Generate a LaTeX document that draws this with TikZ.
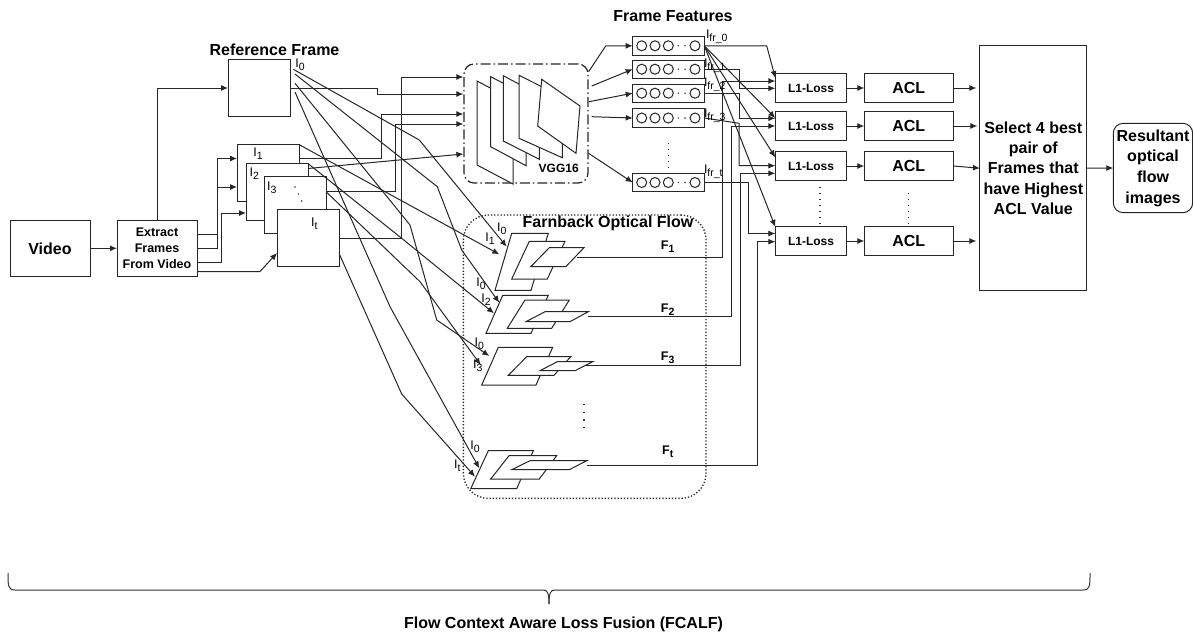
\documentclass[tikz,border=0pt]{standalone}
\usepackage{fontspec}
\setmainfont{Liberation Sans}
\usetikzlibrary{arrows.meta,calc}
\newcommand{\sz}[1]{\fontsize{#1}{#1}\selectfont}
\newcommand{\lab}[2]{#1\raisebox{-3pt}{\sz{10.5}#2}}
\begin{document}
\begin{tikzpicture}[x=1pt,y=-1pt,>={Latex[length=7pt,width=6pt]},line width=1pt,
unit/.style={draw=black!85,fill=white,inner sep=0pt,outer sep=0pt,align=center},
framebox/.style={unit,minimum width=62pt,minimum height=56.5pt},
featbox/.style={unit,minimum width=71.6pt,minimum height=18.4pt},
lossbox/.style={unit,minimum width=71.4pt,minimum height=28.4pt,font=\bfseries\sz{12}},
aclbox/.style={unit,minimum width=89pt,minimum height=28.4pt,font=\bfseries\sz{16}},
flow/.style={->,draw=black!85},
plane/.style={draw=black!85,fill=white},
cell/.style={draw=black!85,circle,minimum size=10pt,inner sep=0pt},
lab/.style={font=\sz{12.5},inner sep=0pt},
flab/.style={font=\bfseries\sz{12.5},inner sep=0pt},
title/.style={font=\bfseries\sz{16},inner sep=0pt},
spots/.style={draw=black!80,line width=1.2pt,dash pattern=on 1.2pt off 4.8pt}]
\useasboundingbox (0,0) rectangle (1193,637);
\node[draw=black!85,line width=1.3pt,dash pattern=on 1.3pt off 1.9pt,rounded corners=25pt,minimum width=242.7pt,minimum height=283.3pt,inner sep=0pt] (flowarea) at (584.7,356.7) {};
\node[draw=black!85,line width=1.2pt,dash pattern=on 10pt off 3pt on 1.5pt off 3pt,rounded corners=10pt,minimum width=124pt,minimum height=119pt,inner sep=0pt] (vgg) at (526,123.5) {};
\draw[plane] (477,81)--(513,100)--(513,184)--(477,165)--cycle;
\draw[plane] (490.7,76.7)--(526,95)--(526,165.7)--(490.7,146.7)--cycle;
\draw[plane] (503.3,75.7)--(539.3,95)--(539.3,159.3)--(503.3,141)--cycle;
\draw[plane] (519,75.3)--(562.3,97)--(562.3,157.7)--(519,138.3)--cycle;
\draw[plane] (541.7,79.3)--(580,106)--(576,153.3)--(537.7,126)--cycle;
\node[inner sep=0pt,font=\bfseries\sz{12}] at (558.7,168) {VGG16};
\node[unit,minimum width=80pt,minimum height=56.5pt,font=\bfseries\sz{16}] (video) at (50,248.3) {Video};
\node[unit,minimum width=80pt,minimum height=56.5pt,font=\bfseries\sz{12.5}] (extract) at (157,248.3) {Extract\\[3.5pt]Frames\\[3.5pt]From Video};
\node[framebox] (refframe) at (259,88) {};
\node[framebox] (frameone) at (268,172.8) {};
\node[framebox] (frametwo) at (277,191.8) {};
\node[framebox] (framethree) at (295,205) {};
\node[framebox] (framelast) at (308,238) {};
\foreach \i/\p in {0/45.8,1/69.2,2/93.2,3/118,t/182.5}{
\node[featbox] (feat\i) at (668.5,\p) {};
\foreach \c in {641.7,655,668.3,695}{\node[cell] at (\c,\p) {};}
\fill[black!80] (678.3,\p) circle (.8pt) (685,\p) circle (.8pt);
}
\foreach \i/\p in {1/88,2/126,3/166,4/241}{
\node[lossbox] (loss\i) at (811,\p) {L1-Loss};
\node[aclbox] (acl\i) at (908.8,\p) {ACL};
\draw[flow] (loss\i.east)--(acl\i.west);
}
\node[unit,minimum width=106.7pt,minimum height=245pt,font=\bfseries\sz{16}] (select) at (1033.3,168.2) {Select 4 best\\[4.3pt]pair of\\[4.3pt]Frames that\\[4.3pt]have Highest\\[4.3pt]ACL Value};
\node[unit,rounded corners=10pt,minimum width=79.4pt,minimum height=89.4pt,font=\bfseries\sz{16}] (result) at (1153,168) {Resultant\\[4.7pt]optical\\[4.7pt]flow\\[4.7pt]images};
\draw[plane] (511.7,233.3)--(548.3,233.3)--(531,290.3)--(495,290.3)--cycle;
\draw[plane] (529.3,241.3)--(565,241.3)--(547.3,279)--(511.7,279)--cycle;
\draw[plane] (549.3,247.7)--(584,247.7)--(565.7,266.7)--(530.7,266.7)--cycle;
\draw[plane] (502.7,295.3)--(548.3,295.3)--(531,333.3)--(486,333.3)--cycle;
\draw[plane] (525,300)--(569.3,300)--(551.7,328.3)--(507.3,328.3)--cycle;
\draw[plane] (545,311.7)--(588.3,311.7)--(570,321.7)--(526,321.7)--cycle;
\draw[plane] (498.3,347.3)--(552.7,347.3)--(536,385)--(481.7,385)--cycle;
\draw[plane] (526.7,356.7)--(570.7,356.7)--(554,375.3)--(508.3,375.3)--cycle;
\draw[plane] (557.3,361.7)--(592.7,361.7)--(575,370.7)--(540,370.7)--cycle;
\draw[plane] (488.3,450.7)--(533.3,450.7)--(516.7,488.7)--(470.7,488.7)--cycle;
\draw[plane] (509,455.7)--(556.7,455.7)--(539.3,479)--(490.7,479)--cycle;
\draw[plane] (530,460.7)--(586.7,460.7)--(569.3,469.7)--(511.7,469.7)--cycle;
\coordinate (flowa) at (577,257.3);
\coordinate (flowb) at (588.3,316.7);
\coordinate (flowc) at (586,365.7);
\coordinate (flowt) at (586.7,465);
\draw[flow] (video.east)--(extract.west);
\draw[flow] (extract.north)--(157,88)--(refframe.west);
\draw[flow] (extract.east|-0,234)--(217,234)--(217,158.5)--(frameone.west|-0,158.5);
\draw[flow] (extract.east|-0,248.3)--(217,248.3)--(217,187)--(frameone.west|-0,187);
\draw[flow] (extract.east|-0,262.7)--(221,262.7)--(221,213)--(frametwo.west|-0,213);
\draw[flow] (extract.east|-0,271.5)--(260,271.5)--(framelast.west|-0,253);
\draw[flow] (refframe.east)--(377,88)--(377,94)--(vgg.west|-0,94);
\draw[flow] (framelast.east)--(401,238)--(401,77)--(vgg.west|-0,77);
\draw[flow] (frameone.east|-0,158)--(381,158)--(381,114)--(vgg.west|-0,114);
\draw[flow] (frametwo.east|-0,168.5)--(vgg.west|-0,154);
\draw[flow] (framethree.east|-0,191.5)--(395,191.5)--(395,124)--(vgg.west|-0,124);
\coordinate (refout) at (293.3,69.3);
\coordinate (refoutb) at (295,74);
\coordinate (refoutc) at (295,83.3);
\coordinate (refoutd) at (295,92);
\draw[flow] (refout)--(419.3,140)--(506.7,246.7);
\draw[flow] (refoutb)--(437.3,186.7)--(461.7,250)--(499.3,302.7);
\draw[flow] (refoutc)--(410,225)--(436.7,320)--(489.3,356);
\draw[flow] (refoutd)--(390,306.7)--(479.3,468.3);
\draw[flow] (frameone.north east)--(499.3,254.3);
\draw[flow] (frametwo.north east)--(401.7,238.3)--(494,313.3);
\draw[flow] (framethree.east|-0,191.7)--(420,281.7)--(480.7,365);
\draw[flow] (framelast.east|-0,253.3)--(401.7,394)--(475,476.7);
\draw[flow] (vgg.east|-0,71.7)--(605.7,46)--(feat0.west);
\draw[flow] (591.7,86)--(feat1.west);
\draw[flow] (589,101.7)--(feat2.west);
\draw[flow] (591.7,116.7)--(feat3.west);
\draw[flow] (vgg.east|-0,153.3)--(featt.west);
\draw[flow] (feat0.east)--(766.7,45.8)--(loss1.west|-0,78);
\draw[flow] (feat0.east)--(loss2.west|-0,118);
\draw[flow] (feat0.east)--(loss3.west|-0,157.3);
\draw[flow] (feat0.east)--(loss4.north west);
\draw[flow] (feat1.east)--(739,69.2)--(739,88.3)--(loss1.west|-0,88.3);
\draw[flow] (feat2.east)--(739,93.2)--(739,118.3)--(loss2.west|-0,118.3);
\draw[flow] (feat3.east)--(739,123.3)--(739,165.7)--(loss3.west|-0,165.7);
\draw[flow] (featt.east)--(748.3,182.5)--(748.3,233.5)--(loss4.west|-0,233.5);
\draw[flow] (flowa)--(722,257.3)--(722,81)--(loss1.west|-0,81);
\draw[flow] (flowb)--(731,316.7)--(731,126)--(loss2.west|-0,126);
\draw[flow] (flowc)--(740,365.7)--(740,173.3)--(loss3.west|-0,173.3);
\draw[flow] (flowt)--(757.3,465)--(757.3,241.7)--(loss4.west|-0,241.7);
\draw[flow] (acl1.east)--++(23,0);
\draw[flow] (acl2.east)--++(24,0);
\draw[flow] (acl3.east)--(select.west);
\draw[flow] (acl4.east)--++(23,0);
\draw[flow] (select.east)--(result.west);
\draw[spots] (668.3,143)--(668.3,169);
\draw[spots] (820,186.7)--(820,225);
\draw[spots] (908.7,193)--(908.7,225);
\draw[spots,dash pattern=on 1.2pt off 6.5pt] (584,404)--(584,429);
\fill[black!80] (295,187) circle (.8pt) (298.3,194) circle (.8pt) (301.7,201) circle (.8pt);
\node[title] at (274.5,50) {Reference Frame};
\node[title] at (673,16.5) {Frame Features};
\node[title] at (608,223) {Farnback Optical Flow};
\node[lab] at (300,65) {\lab{I}{0}};
\node[lab] at (258,154) {\lab{I}{1}};
\node[lab] at (254.3,174) {\lab{I}{2}};
\node[lab] at (271.7,187.7) {\lab{I}{3}};
\node[lab] at (314.3,224) {\lab{I}{t}};
\node[lab,anchor=west] at (705.5,37) {\lab{I}{fr\_0}};
\node[lab,anchor=west] at (703.5,66) {\lab{I}{fr\_1}};
\node[lab,anchor=west] at (703.5,85) {\lab{I}{fr\_2}};
\node[lab,anchor=west] at (703.5,116) {\lab{I}{fr\_3}};
\node[lab,anchor=west] at (703.5,172) {\lab{I}{fr\_t}};
\node[lab] at (501.7,229) {\lab{I}{0}};
\node[lab] at (490,239) {\lab{I}{1}};
\node[lab] at (481,284) {\lab{I}{0}};
\node[lab] at (486,300) {\lab{I}{2}};
\node[lab] at (479.3,343.3) {\lab{I}{0}};
\node[lab] at (477.7,366) {\lab{I}{3}};
\node[lab] at (475,446.7) {\lab{I}{0}};
\node[lab] at (457.3,466) {\lab{I}{t}};
\node[flab] at (667.7,246.7) {\lab{F}{1}};
\node[flab] at (667.7,310) {\lab{F}{2}};
\node[flab] at (667.7,357.3) {\lab{F}{3}};
\node[flab] at (667.7,451.7) {\lab{F}{t}};
\draw[draw=black!80] (8,573) .. controls (8,586) and (8,590) .. (15,590) -- (543,590) .. controls (547,590) and (549,592) .. (549,604);
\draw[draw=black!80] (1090,573) .. controls (1090,586) and (1090,590) .. (1083,590) -- (555,590) .. controls (551,590) and (549,592) .. (549,604);
\node[title] at (563.5,624) {Flow Context Aware Loss Fusion (FCALF)};
\end{tikzpicture}
\end{document}
